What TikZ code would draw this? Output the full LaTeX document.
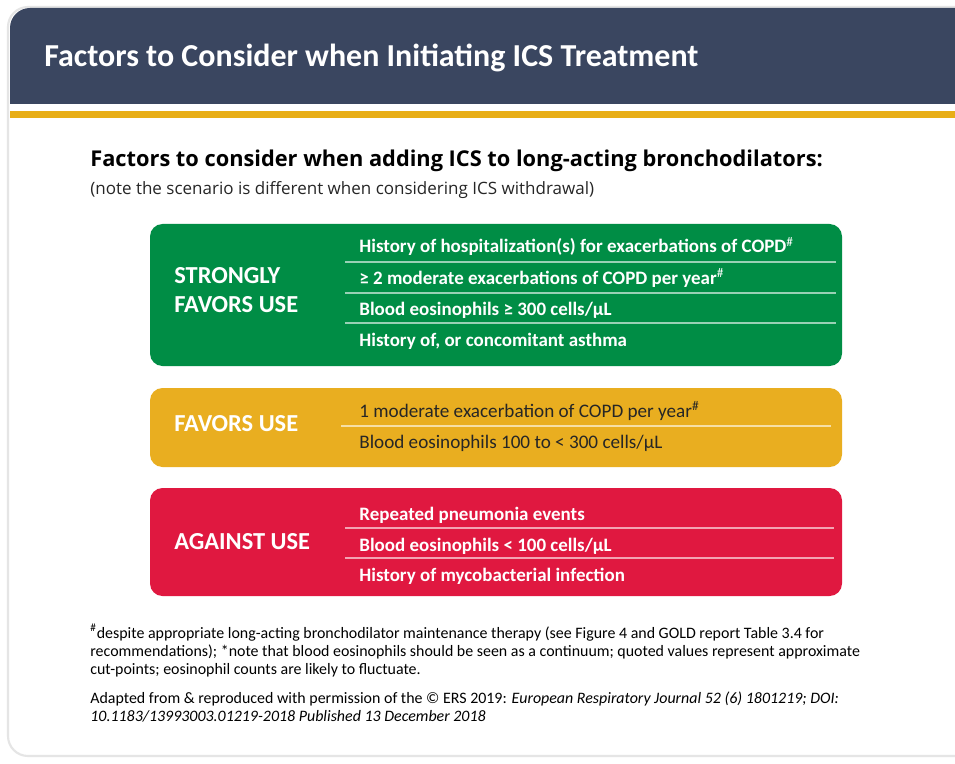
\documentclass[tikz,border=0pt]{standalone}
\usepackage{fontspec}
\setmainfont{Carlito}
\newfontfamily\opensans{Open Sans}
\definecolor{headblue}{RGB}{58,70,96}
\definecolor{goldbar}{RGB}{232,174,22}
\definecolor{favgreen}{RGB}{0,141,69}
\definecolor{favgold}{RGB}{233,174,32}
\definecolor{againred}{RGB}{224,24,64}
\newcommand{\hashmark}{\textsuperscript{\mdseries\#}}
\tikzset{
  catbox/.style={rounded corners=0.25cm},
  catlabel/.style={anchor=base west,inner sep=0pt,white,font=\fontsize{13.9}{15}\selectfont\bfseries},
  rowtext/.style={anchor=base west,inner sep=0pt,white,font=\fontsize{10.8}{12}\selectfont\bfseries},
  rowplain/.style={anchor=base west,inner sep=0pt,black!85,font=\fontsize{10.9}{12}\selectfont},
  rowsep/.style={line width=0.6pt},
  foot/.style={anchor=base west,inner sep=0pt,font=\fontsize{9.07}{10}\selectfont}
}
\begin{document}
\begin{tikzpicture}[x=0.02cm,y=-0.02cm]
    \useasboundingbox (0,0) rectangle (955,763);
    \fill[white] (0,0) rectangle (955,763);
    \clip (0,0) rectangle (955,763);
    % card and header
    \draw[black!10,fill=white,line width=1.2pt,rounded corners=0.4cm] (8,7) rectangle (990,756);
    \fill[headblue] (10,104) [rounded corners=0.4cm] -- (10,8) [sharp corners] -- (990,8) -- (990,104) -- cycle;
    \fill[goldbar] (10,111) rectangle (990,118);
    \node[anchor=base west,inner sep=0pt,white,font=\fontsize{18.2}{20}\selectfont\bfseries] (title) at (44,67) {Factors to Consider when Initiating ICS Treatment};
    \node[anchor=base west,inner sep=0pt,font=\opensans\fontsize{12.4}{14}\selectfont\bfseries] (subtitle) at (90,167) {Factors to consider when adding ICS to long-acting bronchodilators:};
    \node[anchor=base west,inner sep=0pt,black!85,font=\opensans\fontsize{9.68}{12}\selectfont] (note) at (90,195) {(note the scenario is different when considering ICS withdrawal)};
    % strongly favors use
    \fill[favgreen,catbox] (150,224) rectangle (842,366);
    \draw[rowsep,white!60!favgreen] (345,262) -- (836,262) (345,293) -- (836,293) (345,323) -- (836,323);
    \node[catlabel] (strong1) at (174,283) {STRONGLY};
    \node[catlabel] (strong2) at (174,312) {FAVORS USE};
    \node[rowtext] (s1) at (359,253) {History of hospitalization(s) for exacerbations of COPD\hashmark};
    \node[rowtext] (s2) at (359,284) {≥ 2 moderate exacerbations of COPD per year\hashmark};
    \node[rowtext] (s3) at (359,315) {Blood eosinophils ≥ 300 cells/µL};
    \node[rowtext] (s4) at (359,346) {History of, or concomitant asthma};
    % favors use
    \fill[favgold,catbox] (150,388) rectangle (842,467);
    \draw[rowsep,white!60!favgold] (341,426) -- (831,426);
    \node[catlabel] (fav) at (174,431) {FAVORS USE};
    \node[rowplain] (f1) at (359,417) {1 moderate exacerbation of COPD per year\hashmark};
    \node[rowplain] (f2) at (359,448) {Blood eosinophils 100 to < 300 cells/µL};
    % against use
    \fill[againred,catbox] (150,488) rectangle (842,596);
    \draw[rowsep,white!60!againred] (345,528) -- (834,528) (345,558) -- (834,558);
    \node[catlabel] (against) at (174,549) {AGAINST USE};
    \node[rowtext] (a1) at (359,520) {Repeated pneumonia events};
    \node[rowtext] (a2) at (359,551) {Blood eosinophils < 100 cells/µL};
    \node[rowtext] (a3) at (359,581) {History of mycobacterial infection};
    % footnotes
    \node[foot] (n1) at (90,638) {\hashmark despite appropriate long-acting bronchodilator maintenance therapy (see Figure 4 and GOLD report Table 3.4 for};
    \node[foot] (n2) at (90,656) {recommendations); *note that blood eosinophils should be seen as a continuum; quoted values represent approximate};
    \node[foot] (n3) at (90,674) {cut-points; eosinophil counts are likely to fluctuate.};
    \node[foot] (r1) at (90,703) {Adapted from \& reproduced with permission of the © ERS 2019: \textit{European Respiratory Journal 52 (6) 1801219; DOI:}};
    \node[foot] (r2) at (90,721) {\textit{10.1183/13993003.01219-2018 Published 13 December 2018}};
\end{tikzpicture}
\end{document}
